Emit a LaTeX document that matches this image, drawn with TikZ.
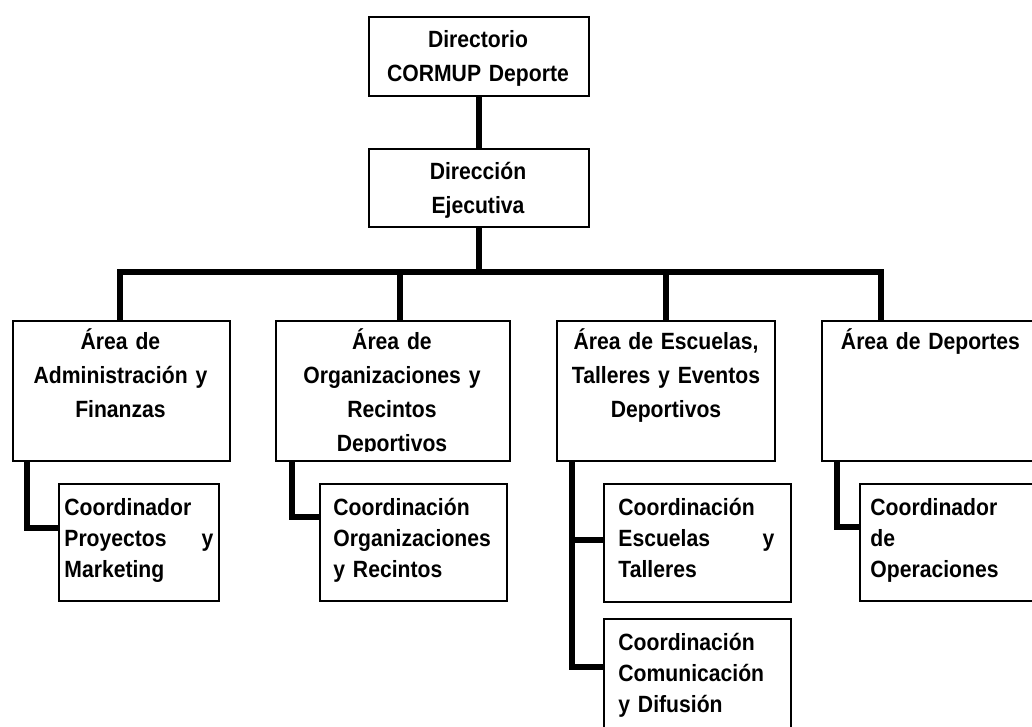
\documentclass[tikz,border=0pt]{standalone}
\usepackage{fontspec}
\setmainfont{Liberation Sans}[FakeStretch=0.9]
\usepackage{tikz}
\tikzset{
  box/.style={rectangle, draw=black, line width=1pt, inner sep=0pt,
    anchor=north west},
  head/.style={anchor=base, inner sep=0pt, text width=100pt, align=center,
    font=\fontsize{11.75}{17}\selectfont\bfseries},
  sub/.style={anchor=base west, inner sep=0pt, align=left,
    font=\fontsize{11.75}{15.5}\selectfont\bfseries},
  conn/.style={line width=3pt, color=black}
}

\begin{document}
\begin{tikzpicture}[x=0.5pt, y=-0.5pt]
  \useasboundingbox (0,0) rectangle (1032,727);
  \clip (0,0) rectangle (1032,727);

  % Top levels
  \node[box, minimum width=110pt, minimum height=39.5pt] (dir) at (368,16) {};
  \node[head] (dirtxt) at (478,48) {Directorio\\CORMUP Deporte};
  \node[box, minimum width=110pt, minimum height=39pt] (eje) at (368,148) {};
  \node[head] (ejetxt) at (478,180) {Dirección\\Ejecutiva};

  % Areas
  \node[box, minimum width=108.5pt, minimum height=70pt] (adm) at (12,320) {};
  \node[head] (admtxt) at (120.5,349) {Área de\\Administración y\\Finanzas};
  \node[box, minimum width=117pt, minimum height=70pt] (org) at (275,320) {};
  \begin{scope}
    \clip (275,320) rectangle (509,451);
    \node[head] (orgtxt) at (392,349) {Área de\\Organizaciones y\\Recintos\\Deportivos};
  \end{scope}
  \node[box, minimum width=109pt, minimum height=70pt] (esc) at (556,320) {};
  \node[head] (esctxt) at (666,349) {Área de Escuelas,\\Talleres y Eventos\\Deportivos};
  \node[box, minimum width=109.5pt, minimum height=70pt] (dep) at (821,320) {};
  \node[head] (deptxt) at (930.5,349) {Área de Deportes};

  % Coordinations
  \node[box, minimum width=80pt, minimum height=58.5pt] (cpm) at (58,483) {};
  \node[sub, text width=74.5pt] (cpmtxt) at (64,515) {Coordinador\\Proyectos \hfill y\\Marketing};
  \node[box, minimum width=93.5pt, minimum height=58.5pt] (cor) at (319,483) {};
  \node[sub, text width=78.5pt] (cortxt) at (333,515) {Coordinación\\Organizaciones\\y Recintos};
  \node[box, minimum width=93.5pt, minimum height=59pt] (cet) at (603,483) {};
  \node[sub, text width=78pt] (cettxt) at (618,515) {Coordinación\\Escuelas \hfill y\\Talleres};
  \node[box, minimum width=93.5pt, minimum height=70pt] (ccd) at (603,618) {};
  \node[sub, text width=78pt] (ccdtxt) at (618,650) {Coordinación\\Comunicación\\y Difusión};
  \node[box, minimum width=95pt, minimum height=58.5pt] (cop) at (859,483) {};
  \node[sub, text width=78pt] (coptxt) at (870,515) {Coordinador\\de\\Operaciones};

  % Lines
  \coordinate (b1) at (120,272);
  \coordinate (b2) at (400,272);
  \coordinate (b3) at (666,272);
  \coordinate (b4) at (881,272);
  \draw[conn] (dir) -- (eje);
  \draw[conn] (eje) -- (eje |- b1);
  \draw[conn] (b1 |- adm.north) -- (b1) -- (b4) -- (b4 |- dep.north);
  \draw[conn] (b2) -- (b2 |- org.north);
  \draw[conn] (b3) -- (b3 |- esc.north);

  \coordinate (k1) at (27,528);
  \coordinate (k2) at (292,517);
  \coordinate (k3) at (572,540);
  \coordinate (k4) at (572,667);
  \coordinate (k5) at (837,527);
  \draw[conn] (k1 |- adm.south) -- (k1) -- (cpm.west |- k1);
  \draw[conn] (k2 |- org.south) -- (k2) -- (cor.west |- k2);
  \draw[conn] (k3 |- esc.south) -- (k4) -- (ccd.west |- k4);
  \draw[conn] (k3) -- (cet.west |- k3);
  \draw[conn] (k5 |- dep.south) -- (k5) -- (cop.west |- k5);
\end{tikzpicture}
\end{document}
